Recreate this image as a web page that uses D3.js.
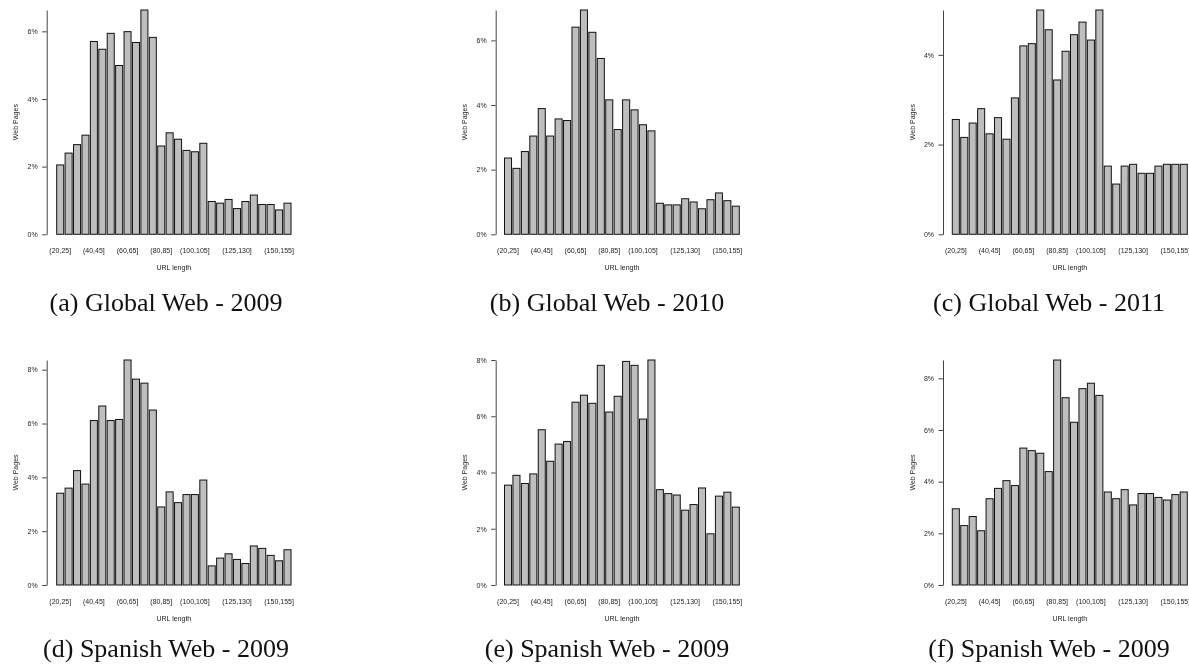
<!DOCTYPE html>
<html>
<head>
<meta charset="utf-8">
<script src="https://cdn.jsdelivr.net/npm/d3@7"></script>
<style>
  html, body { margin: 0; padding: 0; background: #fff; }
  svg { display: block; filter: grayscale(1); }
  .tick text { font-family: "Liberation Sans", Arial, sans-serif; }
</style>
</head>
<body>
<svg id="fig" width="1189" height="668"></svg>
<script>
// URL length bins (5-character buckets)
const binLabels = ["(20,25]","(25,30]","(30,35]","(35,40]","(40,45]","(45,50]","(50,55]",
  "(55,60]","(60,65]","(65,70]","(70,75]","(75,80]","(80,85]","(85,90]","(90,95]",
  "(95,100]","(100,105]","(105,110]","(110,115]","(115,120]","(120,125]","(125,130]",
  "(130,135]","(135,140]","(140,145]","(145,150]","(150,155]","(155,160]"];

// bins whose label fits under the bars
const xTickLabels = ["(20,25]","(40,45]","(60,65]","(80,85]","(100,105]","(125,130]","(150,155]"];

// share of web pages per bin, in percent
const global2009 = [2.05,2.40,2.65,2.93,5.70,5.47,5.94,4.99,5.99,5.67,6.63,5.82,2.61,3.00,
  2.81,2.48,2.44,2.69,0.97,0.92,1.03,0.76,0.97,1.16,0.88,0.88,0.72,0.92];
const global2010 = [2.36,2.04,2.56,3.04,3.89,3.04,3.57,3.52,6.41,6.94,6.25,5.44,4.16,3.24,
  4.16,3.85,3.39,3.20,0.96,0.91,0.91,1.10,1.00,0.79,1.07,1.28,1.04,0.87];
const global2011 = [2.56,2.16,2.48,2.80,2.24,2.60,2.12,3.04,4.20,4.25,5.00,4.56,3.44,4.08,
  4.45,4.73,4.33,5.00,1.52,1.12,1.52,1.56,1.36,1.36,1.52,1.56,1.56,1.56];
const spanishD = [3.41,3.60,4.25,3.75,6.11,6.65,6.11,6.15,8.36,7.65,7.50,6.50,2.90,3.46,
  3.06,3.36,3.36,3.90,0.71,1.00,1.16,0.95,0.80,1.45,1.36,1.10,0.90,1.31];
const spanishE = [3.55,3.90,3.61,3.95,5.52,4.40,5.01,5.10,6.50,6.75,6.46,7.81,6.15,6.71,
  7.95,7.81,5.90,8.00,3.39,3.25,3.20,2.66,2.86,3.45,1.82,3.16,3.30,2.77];
const spanishF = [2.95,2.30,2.65,2.10,3.34,3.74,4.04,3.85,5.30,5.20,5.10,4.39,8.71,7.25,
  6.30,7.60,7.81,7.34,3.60,3.34,3.69,3.10,3.54,3.54,3.39,3.29,3.50,3.60];

const yTickValues = [0, 2, 4, 6, 8];

const captions = ["(a) Global Web - 2009", "(b) Global Web - 2010", "(c) Global Web - 2011",
  "(d) Spanish Web - 2009", "(e) Spanish Web - 2009", "(f) Spanish Web - 2009"];

const panels = [global2009, global2010, global2011, spanishD, spanishE, spanishF];

// grid geometry: three columns, two rows
const cols = [
  { axisX: 46.7,  left: 56.7,  right: 291.0,  capX: 166 },
  { axisX: 495.7, left: 504.5, right: 739.3,  capX: 607 },
  { axisX: 943.0, left: 952.3, right: 1187.3, capX: 1049 }
];
const rows = [
  { top: 10, bottom: 234.3, capY: 311 },
  { top: 360, bottom: 585, capY: 657 }
];

const svg = d3.select("#fig");
const sans = '"Liberation Sans", Arial, Helvetica, sans-serif';
const ink = "#222";

panels.forEach((values, i) => {
  const c = cols[i % 3], r = rows[Math.floor(i / 3)];
  const g = svg.append("g");

  const x = d3.scaleBand()
    .domain(binLabels)
    .range([c.left, c.right])
    .paddingInner(0.2 / 1.2)
    .paddingOuter(0);

  const yMax = d3.max(values);
  const y = d3.scaleLinear().domain([0, yMax]).range([r.bottom, r.top]);

  // bars
  g.append("g").selectAll("rect")
    .data(values)
    .join("rect")
    .attr("x", (d, k) => x(binLabels[k]))
    .attr("y", d => y(d))
    .attr("width", x.bandwidth())
    .attr("height", d => y(0) - y(d))
    .attr("fill", "#bebebe")
    .attr("stroke", "#111")
    .attr("stroke-width", 1);

  // y axis
  const yAxis = g.append("g")
    .attr("transform", `translate(${c.axisX},0)`)
    .call(d3.axisLeft(y)
      .tickValues(yTickValues.filter(v => v <= yMax))
      .tickFormat(d => d + "%")
      .tickSizeInner(4.5)
      .tickSizeOuter(0)
      .tickPadding(4.5));
  yAxis.select(".domain").attr("stroke", "#444");
  yAxis.selectAll(".tick line").attr("stroke", "#444");
  yAxis.selectAll(".tick text").attr("fill", ink).style("font-size", "7px");

  // x axis: labels only
  const xAxis = g.append("g")
    .attr("transform", `translate(0,${r.bottom})`)
    .call(d3.axisBottom(x).tickValues(xTickLabels).tickSize(0).tickPadding(14));
  xAxis.select(".domain").remove();
  xAxis.selectAll(".tick text").attr("fill", ink).style("font-size", "7px");

  // axis titles
  g.append("text")
    .attr("x", (c.left + c.right) / 2)
    .attr("y", r.bottom + 36)
    .attr("text-anchor", "middle")
    .attr("fill", ink)
    .style("font-family", sans)
    .style("font-size", "7px")
    .text("URL length");

  g.append("text")
    .attr("transform", `translate(${c.axisX - 28.5},${(r.top + r.bottom) / 2}) rotate(-90)`)
    .attr("text-anchor", "middle")
    .attr("fill", ink)
    .style("font-family", sans)
    .style("font-size", "7px")
    .text("Web Pages");

  // sub-figure caption
  svg.append("text")
    .attr("x", c.capX)
    .attr("y", r.capY)
    .attr("text-anchor", "middle")
    .attr("fill", "#111")
    .style("font-family", '"Liberation Serif", "Times New Roman", serif')
    .style("font-size", "26px")
    .text(captions[i]);
});
</script>
</body>
</html>
